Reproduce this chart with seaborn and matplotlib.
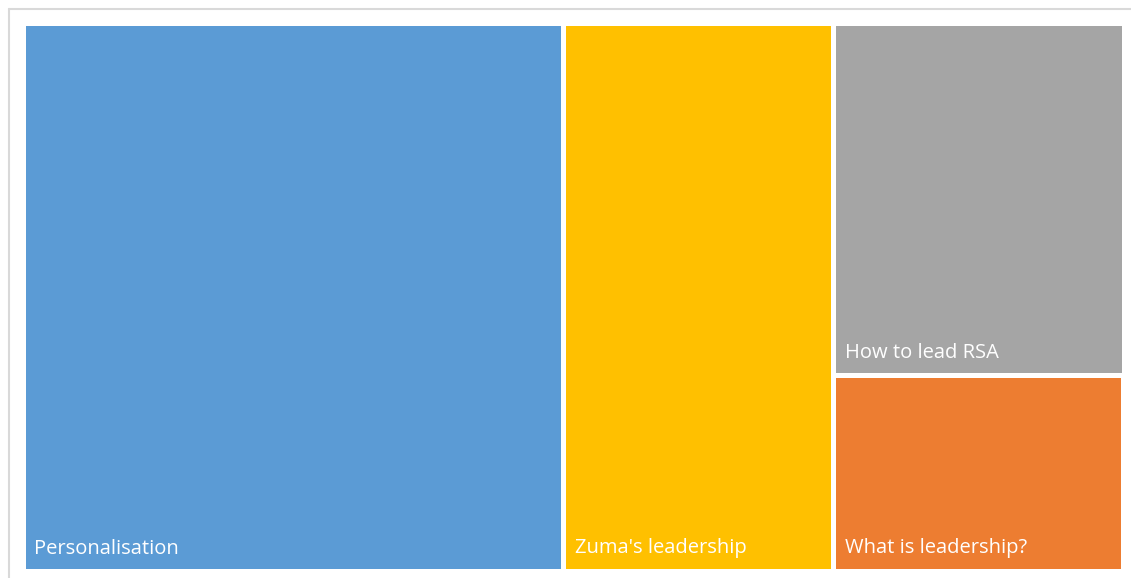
import seaborn as sns
import matplotlib.pyplot as plt
from matplotlib.patches import Rectangle
from matplotlib.lines import Line2D

topics = ["Personalisation", "Zuma's leadership", "How to lead RSA", "What is leadership?"]
counts = [52, 26, 18, 10]
colors = ["#5B9BD5", "#FFC000", "#A5A5A5", "#ED7D31"]


def worst(row, side):
    s = sum(row)
    return max(max(side * side * r / (s * s), s * s / (side * side * r)) for r in row)


def squarify(values, x, y, w, h):
    # values already scaled so that sum(values) == w * h
    rects = []
    vals = list(values)
    while vals:
        side = min(w, h)
        row = [vals.pop(0)]
        while vals and worst(row + [vals[0]], side) <= worst(row, side):
            row.append(vals.pop(0))
        s = sum(row)
        if w >= h:
            rw = s / h
            yy = y + h
            for r in row:
                rh = r / rw
                yy -= rh
                rects.append((x, yy, rw, rh))
            x += rw
            w -= rw
        else:
            rh = s / w
            xx = x
            for r in row:
                rw = r / rh
                rects.append((xx, y + h - rh, rw, rh))
                xx += rw
            h -= rh
    return rects


W, H = 1101, 548
total = sum(counts)
scaled = [c * W * H / total for c in counts]
rects = squarify(scaled, 0, 0, W, H)

sns.set_style("white")
fig = plt.figure(figsize=(11.31, 5.78), dpi=100)

# light outer frame (top and left only are visible)
fx, fy = 8.5 / 1131, 1 - 8.5 / 578
fig.add_artist(Line2D([fx, 1], [fy, fy], transform=fig.transFigure, color="#d9d9d9", linewidth=1.5))
fig.add_artist(Line2D([fx, fx], [0, fy], transform=fig.transFigure, color="#d9d9d9", linewidth=1.5))

ax = fig.add_axes([22.5 / 1131, 7.5 / 578, W / 1131, H / 578])
for (x, y, w, h), name, col in zip(rects, topics, colors):
    ax.add_patch(Rectangle((x, y), w, h, facecolor=col, edgecolor="white", linewidth=3.6))
    ax.annotate(name, xy=(x, y), xytext=(12, 17), textcoords="offset pixels",
                color="white", fontsize=14.5, family=["Open Sans", "DejaVu Sans"],
                ha="left", va="baseline")

ax.set_xlim(0, W)
ax.set_ylim(0, H)
ax.axis("off")

fig.savefig("out.png", dpi=100)
